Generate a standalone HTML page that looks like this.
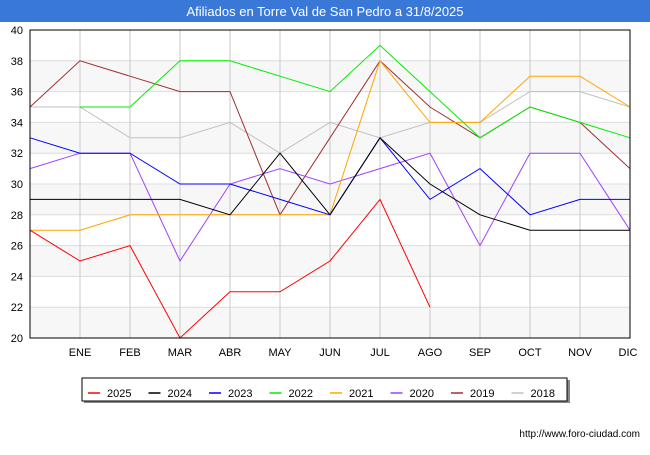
<!DOCTYPE html>
<html><head><meta charset="utf-8"><style>
body{margin:0;width:650px;height:450px;background:#fff;font-family:"Liberation Sans",sans-serif;overflow:hidden}
</style></head><body>
<svg id="c" width="650" height="450" xmlns="http://www.w3.org/2000/svg">
<rect x="0" y="0" width="650" height="22" fill="#3a78d8"/>
<text x="325" y="16" text-anchor="middle" font-size="13" fill="#fff">Afiliados en Torre Val de San Pedro a 31/8/2025</text>
<g id="grid"></g><g id="series"></g>
<rect x="30" y="30" width="600" height="308" fill="none" stroke="#000" stroke-width="1"/>
<g id="axes"></g>
<g id="legend"></g>
<text x="640" y="437" text-anchor="end" font-size="10" fill="#000">http://www.foro-ciudad.com</text>
</svg>
<script>
const months=["","ENE","FEB","MAR","ABR","MAY","JUN","JUL","AGO","SEP","OCT","NOV","DIC"];
const yTicks=[20,22,24,26,28,30,32,34,36,38,40];
const seriesNames=["2025","2024","2023","2022","2021","2020","2019","2018"];
const seriesColors=["#ff0000","#000000","#0000ff","#00ee00","#ffa500","#a040ff","#a03030","#c0c0c0"];
const s2025=[27,25,26,20,23,23,25,29,22,null,null,null,null];
const s2024=[29,29,29,29,28,32,28,33,30,28,27,27,27];
const s2023=[33,32,32,30,30,29,28,33,29,31,28,29,29];
const s2022=[null,35,35,38,38,37,36,39,36,33,35,34,33];
const s2021=[27,27,28,28,28,28,28,38,34,34,37,37,35];
const s2020=[31,32,32,25,30,31,30,31,32,26,32,32,27];
const s2019=[35,38,37,36,36,28,33,38,35,33,35,34,31];
const s2018=[35,35,33,33,34,32,34,33,34,34,36,36,35];
const allSeries=[s2025,s2024,s2023,s2022,s2021,s2020,s2019,s2018];
const NS="http://www.w3.org/2000/svg";
const X=i=>30+i*50;
const Y=v=>338-(v-20)*15.4;
function mk(t,a,p){const e=document.createElementNS(NS,t);for(const k in a)e.setAttribute(k,a[k]);p.appendChild(e);return e;}
const grid=document.getElementById('grid'),axes=document.getElementById('axes'),ser=document.getElementById('series'),leg=document.getElementById('legend');
for(let i=0;i<yTicks.length-1;i++){
  if(i%2==0){const r=mk('rect',{x:30,y:Y(yTicks[i+1]),width:600,height:Y(yTicks[i])-Y(yTicks[i+1]),fill:'#f7f7f7'},grid);
  
  }
}
yTicks.forEach(v=>{
  const l=mk('line',{x1:30,x2:630,y1:Y(v),y2:Y(v),stroke:'#dcdcdc'},grid);
  
  
  const t=mk('text',{x:23,y:Y(v)+4,'text-anchor':'end','font-size':11},axes);t.textContent=v;
  
  
});
months.forEach((m,i)=>{
  if(i==0)return;
  const l=mk('line',{x1:X(i),x2:X(i),y1:30,y2:338,stroke:'#c8c8c8'},grid);
  
  
  const t=mk('text',{x:X(i)-(i==12?2:0),y:356,'text-anchor':'middle','font-size':11},axes);t.textContent=m;
  
  
});
for(let s=allSeries.length-1;s>=0;s--){
  const d=allSeries[s];let pts=[];
  d.forEach((v,i)=>{if(v!==null)pts.push(X(i)+','+Y(v));});
  const p=mk('polyline',{points:pts.join(' '),fill:'none',stroke:seriesColors[s],'stroke-width':1},ser);
  
  
}
const lb=mk('rect',{x:84,y:380,width:486,height:23,fill:'#888'},leg);


const lr=mk('rect',{x:82,y:378,width:485,height:23,fill:'#fff',stroke:'#000'},leg);


seriesNames.forEach((n,i)=>{
  const x0=88+i*60.5;
  const g=mk('g',{},leg);
  
  
  mk('line',{x1:x0,x2:x0+12,y1:393,y2:393,stroke:seriesColors[i],'stroke-width':1.5},g);
  const t=mk('text',{x:x0+19,y:397,'font-size':11},g);t.textContent=n;
});
</script>
</body></html>
